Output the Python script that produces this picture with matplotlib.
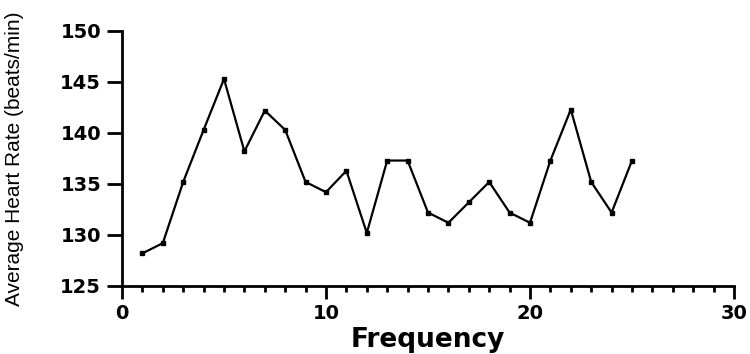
import matplotlib
matplotlib.use("Agg")
import matplotlib.pyplot as plt
from matplotlib.ticker import MultipleLocator

frequency = list(range(1, 26))
heart_rate = [128.2, 129.2, 135.2, 140.3, 145.3, 138.2, 142.2, 140.3, 135.2, 134.2,
              136.3, 130.2, 137.3, 137.3, 132.2, 131.2, 133.2, 135.2, 132.2, 131.2,
              137.3, 142.3, 135.2, 132.2, 137.3]
x_ticks = [0, 10, 20, 30]
y_ticks = [125, 130, 135, 140, 145, 150]

fig = plt.figure(figsize=(7.5, 3.54), dpi=100)
ax = fig.add_axes([122/750, 1-286/354, 612/750, 255/354])

ax.plot(frequency, heart_rate, color="black", linewidth=1.6,
        marker="s", markersize=3.2, markerfacecolor="black", markeredgecolor="black")

ax.set_xlim(0, 30)
ax.set_ylim(125, 150)
ax.set_xticks(x_ticks)
ax.set_yticks(y_ticks)
ax.xaxis.set_minor_locator(MultipleLocator(1))

for s in ["top", "right"]:
    ax.spines[s].set_visible(False)
for s in ["left", "bottom"]:
    ax.spines[s].set_linewidth(2.0)

ax.tick_params(axis="both", which="major", length=9, width=2.0, direction="out",
               labelsize=14, pad=4)
ax.tick_params(axis="y", which="major", length=11)
ax.tick_params(axis="x", which="minor", length=4, width=2.0, direction="out")

for lab in ax.get_xticklabels() + ax.get_yticklabels():
    lab.set_fontfamily("DejaVu Sans")
    lab.set_fontweight("bold")

ax.set_xlabel("Frequency", fontsize=19, fontweight="bold", family="DejaVu Sans")
ax.xaxis.set_label_coords(0.5, -0.16)
ax.set_ylabel("Average Heart Rate (beats/min)", fontsize=15, family="Liberation Sans")
ax.yaxis.set_label_coords(-0.16, 0.5)

fig.savefig("out.png", dpi=100)
